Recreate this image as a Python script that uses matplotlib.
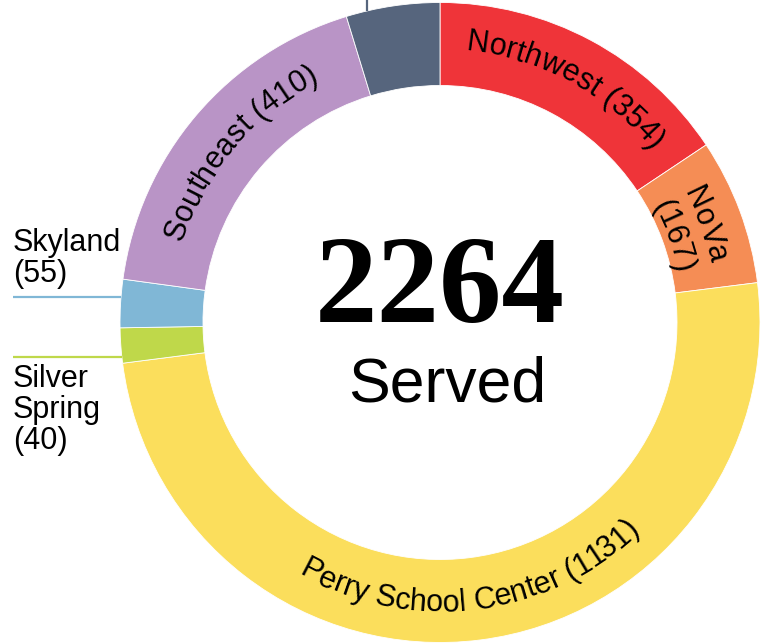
import numpy as np
import matplotlib
matplotlib.use("Agg")
import matplotlib.pyplot as plt
from matplotlib.textpath import TextToPath
from matplotlib.font_manager import FontProperties

# ---- data ----
regions = ["Northwest", "NoVa", "Perry School Center", "Silver Spring", "Skyland", "Southeast", "Other"]
served = [354, 167, 1131, 40, 55, 410, 107]
colors = ["#EF3439", "#F58D55", "#FBDE5C", "#BFD84A", "#80B7D6", "#B994C6", "#56657D"]
total_served = 2264

DPI = 100
W, H = 769, 643
fig = plt.figure(figsize=(W / DPI, H / DPI), dpi=DPI)
ax = fig.add_axes([0, 0, 1, 1])

CX, CY = 440, H - 322.5
R_OUT, RING = 320, 83

ax.pie(served, colors=colors, startangle=90, counterclock=False,
       radius=R_OUT, center=(CX, CY),
       wedgeprops=dict(width=RING, edgecolor="white", linewidth=0.6))
ax.set_xlim(0, W)
ax.set_ylim(0, H)
ax.set_aspect("equal")
ax.axis("off")

FONT = "Liberation Sans"
FS = 22
fp = FontProperties(family=FONT, size=FS)
t2p = TextToPath()


def wpx(s):
    w1 = t2p.get_text_width_height_descent("I" + s + "I", fp, ismath=False)[0]
    w0 = t2p.get_text_width_height_descent("II", fp, ismath=False)[0]
    return (w1 - w0) * DPI / 72.0


CAP = 0.716 * FS * DPI / 72.0

# cumulative angles (clockwise from top)
cum = np.concatenate([[0], np.cumsum(served)])
mids = {regions[i]: 360.0 * (cum[i] + cum[i + 1]) / 2 / total_served for i in range(len(served))}


def arc_text(text, theta_c, r_c, top=True):
    total = wpx(text)
    if top:
        r_b = r_c - CAP / 2
    else:
        r_b = r_c + CAP / 2
    for i, ch in enumerate(text):
        if ch == " ":
            continue
        s = wpx(text[:i]) + wpx(ch) / 2 - total / 2
        dth = np.degrees(s / r_b)
        th = theta_c + dth if top else theta_c - dth
        t = np.radians(th)
        x = CX + r_b * np.sin(t)
        y = CY + r_b * np.cos(t)
        rot = -th if top else 180 - th
        ax.text(x, y, ch, family=FONT, fontsize=FS, ha="center", va="baseline",
                rotation=rot, rotation_mode="anchor", color="black")


arc_text(f"{regions[0]} ({served[0]})", mids["Northwest"], 284, top=True)
arc_text(f"{regions[1]}", mids["NoVa"], 287, top=True)
arc_text(f"({served[1]})", mids["NoVa"], 253, top=True)
arc_text(f"{regions[2]} ({served[2]})", mids["Perry School Center"], 278, top=False)
arc_text(f"{regions[5]} ({served[5]})", mids["Southeast"], 281, top=True)

# outside labels with leader lines
LX = 13
ax.text(LX, H - 251, "Skyland", family=FONT, fontsize=FS, ha="left", va="baseline")
ax.text(LX, H - 282, f"({served[4]})", family=FONT, fontsize=FS, ha="left", va="baseline")
y1 = H - 297
ax.plot([LX, CX - np.sqrt(R_OUT**2 - (y1 - CY) ** 2)], [y1, y1], color=colors[4], lw=1.6,
        solid_capstyle="butt")

ax.text(LX, H - 387, "Silver", family=FONT, fontsize=FS, ha="left", va="baseline")
ax.text(LX, H - 418, "Spring", family=FONT, fontsize=FS, ha="left", va="baseline")
ax.text(LX, H - 449, f"({served[3]})", family=FONT, fontsize=FS, ha="left", va="baseline")
y2 = H - 357
ax.plot([LX, CX - np.sqrt(R_OUT**2 - (y2 - CY) ** 2)], [y2, y2], color=colors[3], lw=1.6,
        solid_capstyle="butt")

# connector for top segment (label outside the visible area)
x3 = 367
ax.plot([x3, x3], [CY + np.sqrt(R_OUT**2 - (x3 - CX) ** 2), H + 5], color=colors[6], lw=1.6,
        solid_capstyle="butt", clip_on=False)

# center text
ax.text(CX, H - 322, f"{total_served}", family="Liberation Serif", fontweight="bold",
        fontsize=90, ha="center", va="baseline", color="black")
ax.text(447, H - 402, "Served", family=FONT, fontsize=45, ha="center", va="baseline", color="black")

fig.savefig("out.png", dpi=DPI)
